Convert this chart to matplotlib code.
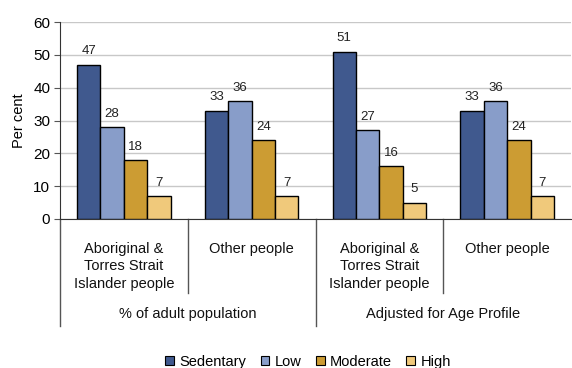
import numpy as np
import matplotlib.pyplot as plt
from matplotlib.patches import Patch

plt.rcParams['font.family'] = ['Liberation Sans', 'DejaVu Sans']

# data
groups = ['Aboriginal &\nTorres Strait\nIslander people', 'Other people',
          'Aboriginal &\nTorres Strait\nIslander people', 'Other people']
outer_groups = ['% of adult population', 'Adjusted for Age Profile']
levels = ['Sedentary', 'Low', 'Moderate', 'High']
sedentary = [47, 33, 51, 33]
low = [28, 36, 27, 36]
moderate = [18, 24, 16, 24]
high = [7, 7, 5, 7]
colors = ['#40598e', '#889dc9', '#cc9c33', '#f0c97b']

series = [sedentary, low, moderate, high]

fig = plt.figure(figsize=(5.72, 3.68), dpi=100)
ax = fig.add_axes([60 / 572, 1 - 219 / 368, 511 / 572, 197 / 368])

bw = 0.183
x = np.arange(len(groups)) + 0.5
for k, (vals, col) in enumerate(zip(series, colors)):
    pos = x + (k - 1.5) * bw
    ax.bar(pos, vals, bw, color=col, edgecolor='black', linewidth=1.0,
           label=levels[k], zorder=3)
    for p, v in zip(pos, vals):
        ax.text(p, v + 2.2, str(v), ha='center', va='bottom', fontsize=9.5,
                color='#222222')

ax.set_xlim(0, 4)
ax.set_ylim(0, 60)
ax.set_yticks(range(0, 61, 10))
ax.tick_params(axis='y', labelsize=11, length=4, color='#555555', pad=3)
ax.set_xticks([])
ax.yaxis.grid(True, color='#c8c8c8', linewidth=1.0, zorder=0)
ax.set_ylabel('Per cent', fontsize=10.5, labelpad=5)
for s in ['top', 'right']:
    ax.spines[s].set_visible(False)
ax.spines['left'].set_color('#333333')
ax.spines['bottom'].set_color('#333333')

# category labels and separator lines below the axis
tr = ax.get_xaxis_transform()
h = 197.0
def ypix(py):
    return -(py - 219) / h

for xi, lab in zip(x, groups):
    ax.text(xi, ypix(242), lab, transform=tr, ha='center', va='top',
            fontsize=10.5, linespacing=1.3, color='#111111')
for xs in [1, 3]:
    ax.plot([xs, xs], [0, ypix(293)], transform=tr, color='#555555',
            linewidth=1.0, clip_on=False)
for xs in [0, 2]:
    ax.plot([xs, xs], [0, ypix(326)], transform=tr, color='#555555',
            linewidth=1.0, clip_on=False)
for i, lab in enumerate(outer_groups):
    ax.text(2 * i + 1, ypix(314), lab, transform=tr, ha='center', va='center',
            fontsize=10.5, color='#111111')

handles = [Patch(facecolor=c, edgecolor='black', linewidth=0.8) for c in colors]
fig.legend(handles, levels, loc='center', bbox_to_anchor=(308 / 572, 1 - 362 / 368),
           ncol=4, frameon=False, fontsize=10.5, handlelength=0.6, handleheight=0.6,
           handletextpad=0.35, columnspacing=1.0)

fig.savefig('out.png', dpi=100)
